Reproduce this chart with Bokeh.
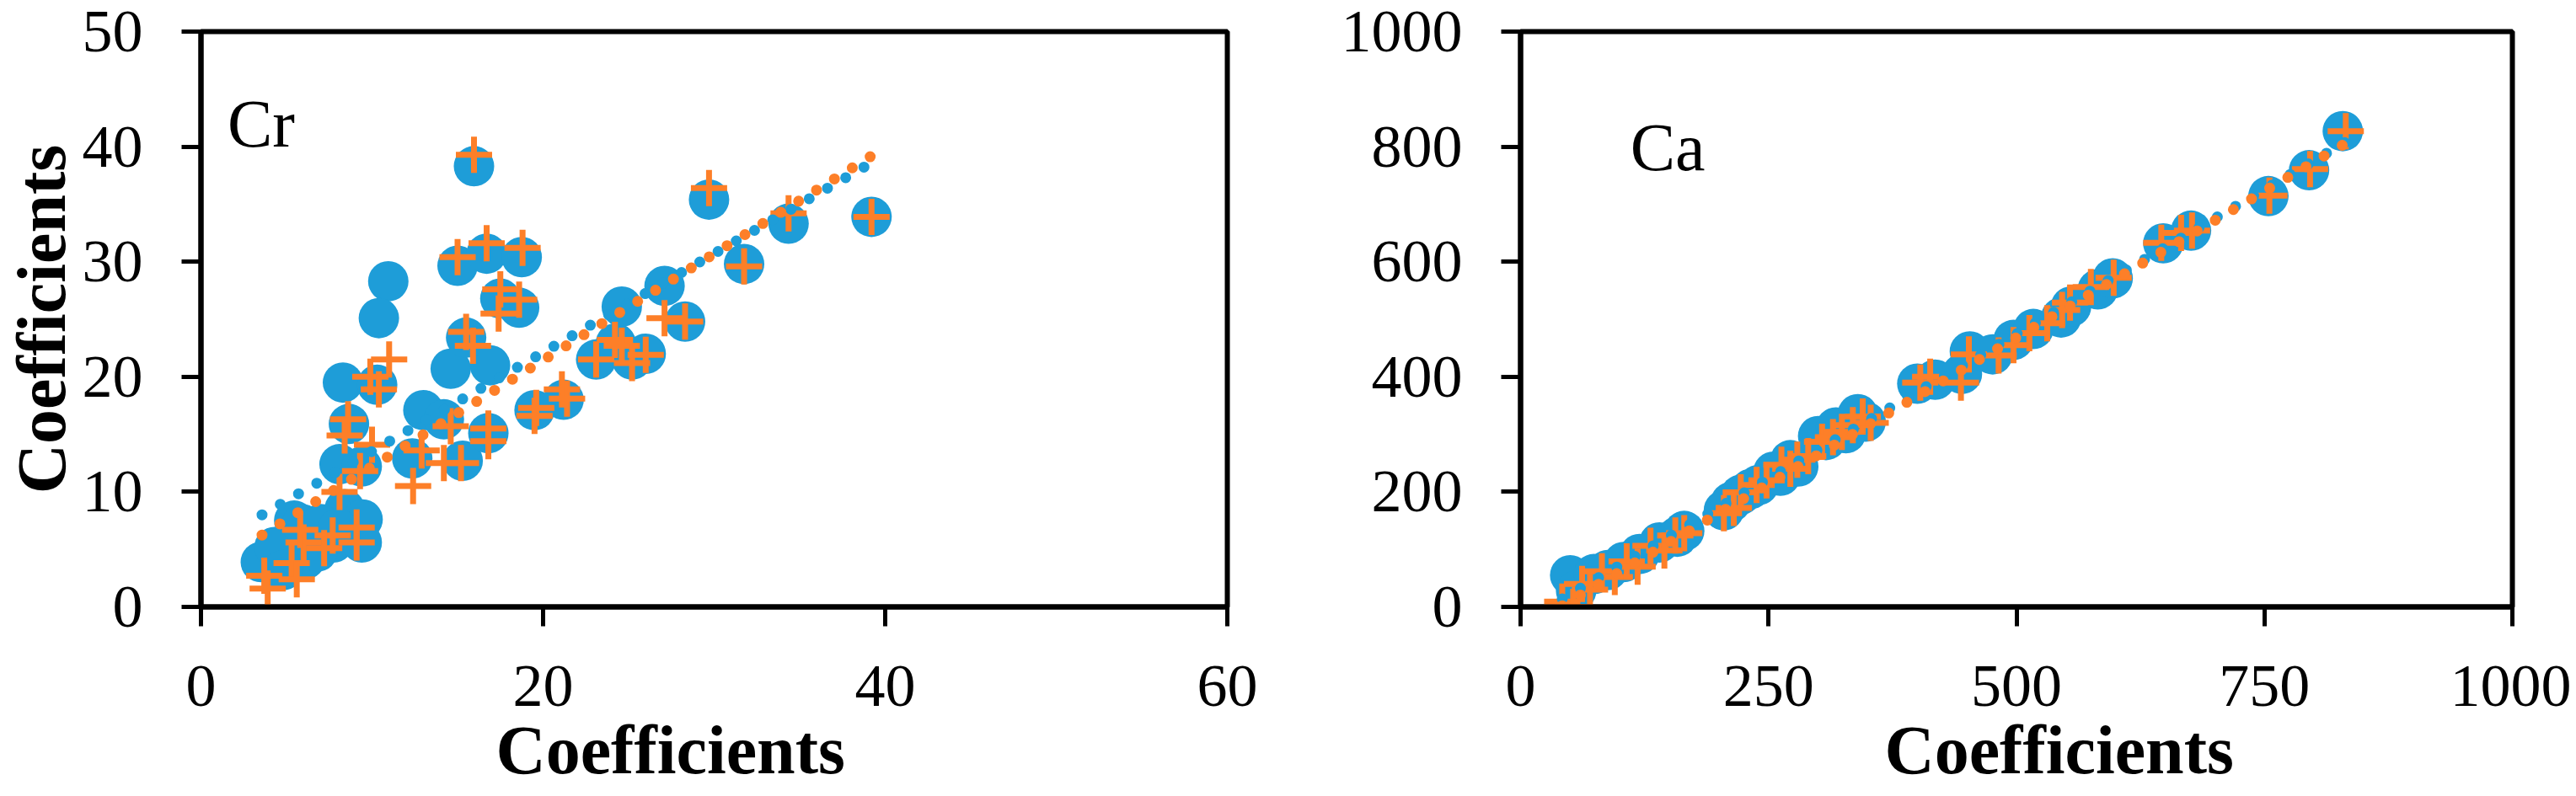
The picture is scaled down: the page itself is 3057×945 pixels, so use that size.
from bokeh.plotting import figure
from bokeh.layouts import row
from bokeh.models import Range1d, FixedTicker, Label, Title
from bokeh.embed import file_html
from bokeh.resources import INLINE

# ---------------- data ----------------
cr_blue_x = [3.5, 5.0, 6.1, 5.45, 6.6, 7.75, 8.4, 9.45, 9.4, 8.1, 9.4, 8.65, 8.3, 10.3, 10.95,
             10.4, 12.35, 13.0, 14.2, 15.3, 14.6, 16.9, 15.5, 16.8, 19.5, 21.2, 23.1, 24.25, 25.2,
             26.0, 24.6, 27.1, 28.3, 17.5, 18.6, 15.0, 16.7, 18.75, 15.96, 29.7, 31.75, 34.35, 39.2,
             4.3, 5.9, 7.0, 8.0, 6.8, 4.8]
cr_blue_y = [3.9, 4.4, 4.15, 7.5, 6.1, 5.6, 8.5, 7.6, 5.6, 12.4, 12.2, 15.9, 19.5, 19.3, 28.3,
             25.1, 12.9, 17.1, 16.3, 12.7, 20.7, 21.0, 23.4, 15.1, 17.1, 18.0, 21.5, 22.9, 21.5,
             22.0, 26.1, 27.9, 24.8, 26.8, 26.0, 29.65, 30.7, 30.4, 38.3, 35.4, 29.8, 33.3, 33.9,
             5.2, 7.2, 7.2, 6.8, 4.8, 3.2]

cr_orange_x = [15.96, 29.7, 34.35, 39.2, 31.75, 15.0, 16.7, 18.8, 17.5, 18.6, 17.4, 15.5, 15.9,
               27.1, 28.3, 23.1, 24.2, 24.6, 25.2, 26.0, 11.0, 9.9, 10.4, 21.1, 21.4, 19.6, 19.5,
               16.8, 16.8, 14.6, 12.9, 14.2, 15.2, 12.4, 8.6, 8.4, 10.0, 9.3, 8.1, 9.1, 9.1, 7.7,
               7.2, 6.0, 5.8, 5.3, 5.6, 3.7, 3.9]
cr_orange_y = [39.3, 36.4, 34.2, 33.9, 29.6, 30.4, 31.6, 31.2, 27.6, 26.7, 25.5, 23.9, 22.7,
               25.1, 24.8, 21.5, 23.2, 22.7, 21.2, 21.9, 21.5, 20.0, 18.9, 18.9, 18.1, 17.3, 16.6,
               15.5, 14.4, 15.7, 13.6, 12.5, 12.5, 10.5, 16.3, 14.9, 14.1, 11.8, 10.0, 6.9, 5.6, 6.2,
               5.1, 5.6, 6.7, 3.8, 2.4, 2.7, 1.6]

cr_trend_x = [3.57, 39.2]
cr_trend_blue_y = [8.0, 38.6]
cr_trend_orange_y = [6.25, 39.2]

ca_blue_x = [50, 56, 74, 88, 104, 120, 140, 158, 165, 205, 212, 222, 232, 240, 255, 262, 272, 280,
             300, 308, 318, 328, 340, 348, 400, 418, 445, 453, 476, 497, 517, 545, 555, 582, 597,
             648, 676, 754, 795, 829]
ca_blue_y = [55, 28, 57, 64, 78, 92, 112, 122, 132, 168, 182, 195, 205, 212, 235, 228, 255, 244,
             297, 290, 312, 302, 335, 322, 388, 395, 405, 444, 439, 464, 483, 503, 522, 552, 571,
             632, 654, 714, 759, 827]

ca_orange_x = [42, 53, 62, 70, 82, 95, 107, 118, 131, 145, 156, 165, 205, 215, 222, 238, 248, 263,
               272, 279, 290, 304, 315, 324, 335, 345, 353, 403, 413, 444, 452, 482, 497, 513, 531,
               546, 554, 575, 598, 646, 666, 677, 755, 796, 832]
ca_orange_y = [9, 0, 40, 30, 62, 52, 79, 70, 106, 98, 124, 128, 163, 172, 199, 212, 220, 247, 240,
               256, 262, 287, 295, 304, 316, 331, 320, 390, 400, 390, 439, 437, 455, 476, 493, 516,
               529, 556, 572, 633, 650, 654, 715, 761, 827]

ca_trend_x = [42, 832]
ca_trend_blue_y = [14, 808]
ca_trend_orange_y = [2, 806]

cr_xticks = [0, 20, 40, 60]
cr_yticks = [0, 10, 20, 30, 40, 50]
ca_xticks = [0, 250, 500, 750, 1000]
ca_yticks = [0, 200, 400, 600, 800, 1000]

axis_title = "Coefficients"

# ---------------- style ----------------
BLUE = "#1E9DD8"
ORANGE = "#FD7F28"
SERIF = "Liberation Serif"


def make_fig(xr, yr, xt, yt, fw, fh, mbl, mbr):
    p = figure(x_range=Range1d(*xr), y_range=Range1d(*yr),
               frame_width=fw, frame_height=fh,
               min_border_left=mbl, min_border_right=mbr,
               min_border_top=37, min_border_bottom=200,
               output_backend="svg", toolbar_location=None)
    p.xgrid.visible = False
    p.ygrid.visible = False
    p.outline_line_color = "black"
    p.outline_line_width = 6
    p.outline_line_alpha = 1
    p.background_fill_color = "white"
    p.border_fill_color = "white"
    p.xaxis.ticker = FixedTicker(ticks=xt)
    p.yaxis.ticker = FixedTicker(ticks=yt)
    for ax in (p.xaxis[0], p.yaxis[0]):
        ax.axis_line_width = 6
        ax.axis_line_color = "black"
        ax.major_tick_line_width = 5
        ax.major_tick_line_color = "black"
        ax.major_tick_out = 23
        ax.major_tick_in = 0
        ax.minor_tick_out = 0
        ax.minor_tick_in = 0
        ax.major_label_text_font = SERIF
        ax.major_label_text_font_size = "72px"
        ax.major_label_text_color = "black"
    p.xaxis.major_label_standoff = 47
    p.yaxis.major_label_standoff = 46
    return p


def add_series(p, bx, by, ox, oy, tx, tby, toy):
    p.scatter(bx, by, marker="circle", size=48, fill_color=BLUE, line_color=None)
    p.scatter(ox, oy, marker="cross", size=43, line_color=ORANGE, line_width=7)
    p.line(tx, tby, line_color=BLUE, line_width=13, line_dash="0 25", line_cap="round")
    p.line(tx, toy, line_color=ORANGE, line_width=13, line_dash="0 25", line_cap="round")


def add_xtitle(p, offset):
    p.add_layout(Title(text=axis_title, align="left", offset=offset, standoff=4,
                       text_font=SERIF, text_font_size="82px", text_font_style="bold",
                       text_color="black"), "below")


# Left: Cr
p1 = make_fig((0, 60), (0, 50), cr_xticks, cr_yticks, 1218, 683, 236, 100)
add_series(p1, cr_blue_x, cr_blue_y, cr_orange_x, cr_orange_y,
           cr_trend_x, cr_trend_blue_y, cr_trend_orange_y)
p1.add_layout(Label(x=1.55, y=42.0, text="Cr", text_font=SERIF, text_font_size="80px",
                    text_color="black", text_align="left", text_baseline="alphabetic"))
p1.yaxis.axis_label = axis_title
p1.yaxis.axis_label_text_font = SERIF
p1.yaxis.axis_label_text_font_size = "82px"
p1.yaxis.axis_label_text_font_style = "bold"
p1.yaxis.axis_label_text_color = "black"
p1.yaxis.axis_label_standoff = 0
add_xtitle(p1, 350)

# Right: Ca
p2 = make_fig((0, 1000), (0, 1000), ca_xticks, ca_yticks, 1177, 683, 248, 70)
add_series(p2, ca_blue_x, ca_blue_y, ca_orange_x, ca_orange_y,
           ca_trend_x, ca_trend_blue_y, ca_trend_orange_y)
p2.add_layout(Label(x=110.6, y=798, text="Ca", text_font=SERIF, text_font_size="80px",
                    text_color="black", text_align="left", text_baseline="alphabetic"))
add_xtitle(p2, 432)

layout = row(p1, p2)
open("out.html", "w").write(file_html(layout, INLINE))
